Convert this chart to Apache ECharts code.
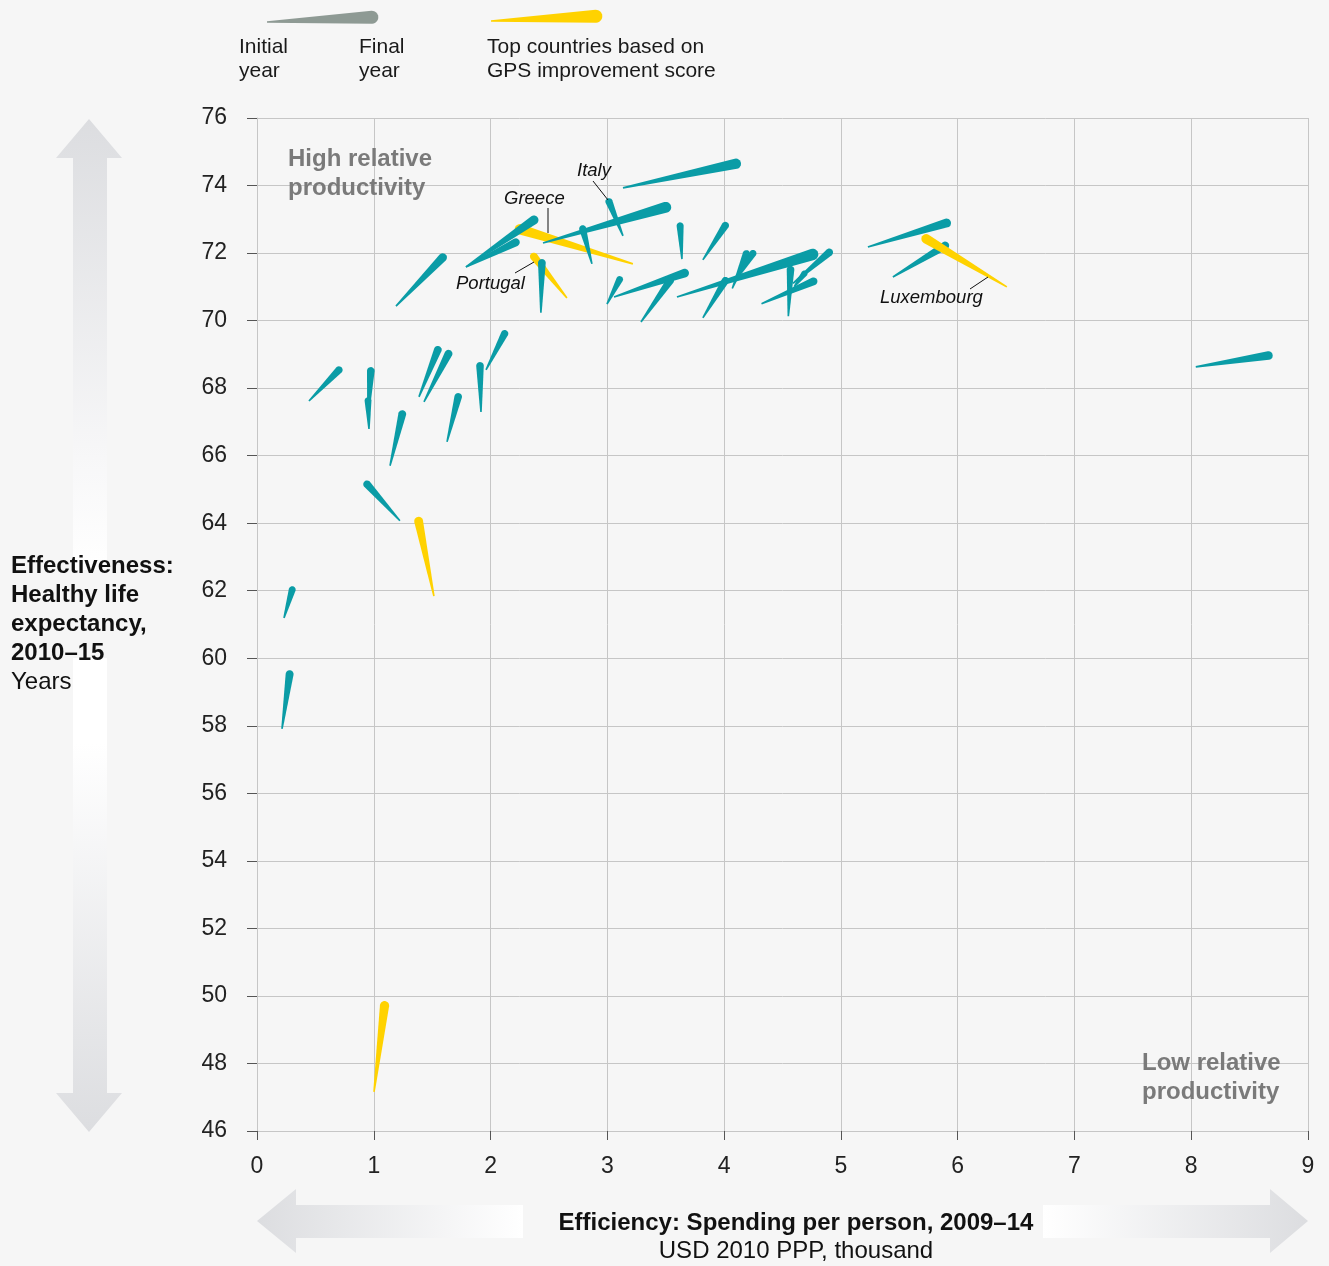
<!DOCTYPE html>
<html>
<head>
<meta charset="utf-8">
<script src="https://cdn.jsdelivr.net/npm/echarts@6/dist/echarts.min.js"></script>
<style>
html,body{margin:0;padding:0;background:#f6f6f6;}
#chart{width:1329px;height:1266px;}
</style>
</head>
<body>
<div id="chart"></div>
<script>
// Spending per person (USD 2010 PPP, thousand) and healthy life expectancy (years)
const initialX = [1.789, 1.789, 3.219, 2.654, 2.431, 2.449, 2.868, 3.134, 3.134, 1.19,
  3.639, 3.818, 2.997, 3.057, 3.288, 3.818, 3.596, 4.07, 4.10, 4.32,
  4.55, 4.59, 4.60, 5.231, 5.445, 6.421, 8.039,
  0.445, 0.950, 0.959, 1.387, 1.430, 1.139, 1.627, 1.918, 1.961, 1.224,
  1.515, 0.231, 0.214, 1.002];
const initialY = [71.59, 71.59, 71.68, 70.67, 70.23, 72.30, 71.68, 72.51, 73.93, 70.43,
  71.82, 71.80, 70.49, 70.70, 69.96, 70.08, 70.70, 70.95, 71.20, 70.50,
  70.13, 71.10, 71.00, 72.18, 71.29, 71.00, 68.63,
  67.62, 67.12, 66.79, 67.74, 67.59, 65.70, 66.41, 67.29, 68.54, 64.07,
  61.84, 61.19, 57.91, 47.16];
const finalX = [2.24, 2.397, 2.217, 2.354, 2.440, 3.536, 2.783, 3.005, 4.135, 1.61,
  3.622, 4.024, 3.116, 3.690, 3.553, 4.024, 4.795, 4.20, 4.26, 4.79,
  4.57, 4.92, 4.70, 5.934, 5.916, 5.702, 8.690,
  0.719, 0.976, 0.950, 1.558, 1.652, 1.250, 1.729, 1.909, 2.132, 0.925,
  1.378, 0.308, 0.283, 1.096];
const finalY = [72.36, 73.04, 72.74, 71.97, 71.80, 73.39, 72.80, 73.60, 74.67, 71.94,
  72.89, 72.89, 71.29, 71.44, 71.26, 71.26, 72.00, 72.06, 72.06, 71.20,
  71.60, 72.08, 71.45, 72.92, 72.27, 72.48, 68.98,
  68.60, 68.60, 67.71, 69.22, 69.10, 67.32, 67.83, 68.75, 69.69, 65.22,
  64.16, 62.11, 59.62, 49.82];
// 1 = top countries based on GPS improvement score
const topCountry = [0, 0, 1, 1, 0, 0, 0, 0, 0, 0,
  0, 0, 0, 0, 0, 0, 0, 0, 0, 0,
  0, 0, 0, 0, 0, 1, 0,
  0, 0, 0, 0, 0, 0, 0, 0, 0, 0,
  1, 0, 0, 1];
const xTicks = [0,1,2,3,4,5,6,7,8,9];
const yTicks = [46,48,50,52,54,56,58,60,62,64,66,68,70,72,74,76];

const TEAL = '#0a9ca6', GOLD = '#ffd200', GREY = '#8e9a94';
const FONT = '"Liberation Sans", Arial, Helvetica, sans-serif';

// draw order: teal drawn above gold except Luxembourg
const data = initialX.map((v, i) => [v, initialY[i], finalX[i], finalY[i], topCountry[i]]);
const order = [];
data.forEach((d, i) => { if (d[4] === 1 && i !== 25) order.push(i); });
data.forEach((d, i) => { if (d[4] === 0) order.push(i); });
order.push(25);
const seriesData = order.map(i => data[i]);

function cometPoints(p0, p1, w0, w1) {
  const dx = p1[0] - p0[0], dy = p1[1] - p0[1];
  const len = Math.hypot(dx, dy) || 1;
  const ux = dx / len, uy = dy / len, nx = -uy, ny = ux;
  const r = w1 / 2;
  const cx = p1[0] - ux * r * 0.8, cy = p1[1] - uy * r * 0.8;
  const pts = [[p0[0] + nx * w0 / 2, p0[1] + ny * w0 / 2]];
  const base = Math.atan2(ny, nx);
  for (let k = 0; k <= 12; k++) {
    const a = base - Math.PI * k / 12;
    pts.push([cx + Math.cos(a) * r, cy + Math.sin(a) * r]);
  }
  pts.push([p0[0] - nx * w0 / 2, p0[1] - ny * w0 / 2]);
  return pts;
}

function renderItem(params, api) {
  const p0 = api.coord([api.value(0), api.value(1)]);
  const p1 = api.coord([api.value(2), api.value(3)]);
  const len = Math.hypot(p1[0] - p0[0], p1[1] - p0[1]);
  const w1 = Math.min(11.5, 5.6 + len * 0.04);
  return {
    type: 'polygon',
    shape: { points: cometPoints(p0, p1, 1.6, w1) },
    style: { fill: api.value(4) === 1 ? GOLD : TEAL }
  };
}

const chart = echarts.init(document.getElementById('chart'), null, { renderer: 'canvas' });

const txt = (x, y, text, opts = {}) => Object.assign({
  type: 'text', left: x, top: y, z: 10,
  style: Object.assign({ text, fill: '#1a1a1a', font: '21px ' + FONT }, opts)
});

const graphics = [
  // vertical arrow (top part)
  { type: 'polygon', z: -1, shape: { points: [[89,119],[122,158],[107,158],[107,570],[73,570],[73,158],[56,158]] },
    style: { fill: new echarts.graphic.LinearGradient(0,0,0,1,[{offset:0,color:'#dcdde0'},{offset:0.75,color:'#f7f7f8'},{offset:1,color:'#ffffff'}]) } },
  // vertical arrow (bottom part)
  { type: 'polygon', z: -1, shape: { points: [[73,658],[107,658],[107,1093],[122,1093],[89,1132],[56,1093],[73,1093]] },
    style: { fill: new echarts.graphic.LinearGradient(0,0,0,1,[{offset:0,color:'#ffffff'},{offset:0.18,color:'#ffffff'},{offset:1,color:'#dcdde0'}]) } },
  // horizontal arrow left
  { type: 'polygon', z: -1, shape: { points: [[257,1221],[296,1189],[296,1205],[523,1205],[523,1238],[296,1238],[296,1253]] },
    style: { fill: new echarts.graphic.LinearGradient(0,0,1,0,[{offset:0,color:'#dcdde0'},{offset:1,color:'#ffffff'}]) } },
  // horizontal arrow right
  { type: 'polygon', z: -1, shape: { points: [[1043,1205],[1270,1205],[1270,1189],[1308,1221],[1270,1253],[1270,1238],[1043,1238]] },
    style: { fill: new echarts.graphic.LinearGradient(0,0,1,0,[{offset:0,color:'#ffffff'},{offset:1,color:'#dcdde0'}]) } },
  // legend comets
  { type: 'polygon', shape: { points: cometPoints([267,22],[377,17],1.6,13) }, style: { fill: GREY } },
  { type: 'polygon', shape: { points: cometPoints([491,21],[601,16],1.6,13) }, style: { fill: GOLD } },
  txt(239, 35, 'Initial\nyear', { lineHeight: 24 }),
  txt(359, 35, 'Final\nyear', { lineHeight: 24 }),
  txt(487, 35, 'Top countries based on\nGPS improvement score', { lineHeight: 24 }),
  // y axis title
  txt(11, 551.5, 'Effectiveness:\nHealthy life\nexpectancy,\n2010\u201315', { font: 'bold 24px ' + FONT, lineHeight: 29, fill: '#111' }),
  txt(11, 667.5, 'Years', { font: '24px ' + FONT, lineHeight: 29, fill: '#111' }),
  // x axis titles
  { type: 'text', x: 796, y: 1223, z: 10,
    style: { text: 'Efficiency: Spending per person, 2009\u201314', font: 'bold 24px ' + FONT, fill: '#111', align: 'center', verticalAlign: 'middle' } },
  { type: 'text', x: 796, y: 1251, z: 10,
    style: { text: 'USD 2010 PPP, thousand', font: '24px ' + FONT, fill: '#111', align: 'center', verticalAlign: 'middle' } },
  // corner labels
  txt(288, 144.5, 'High relative\nproductivity', { font: 'bold 24px ' + FONT, fill: '#7a7a7a', lineHeight: 29 }),
  txt(1142, 1048.5, 'Low relative\nproductivity', { font: 'bold 24px ' + FONT, fill: '#7a7a7a', lineHeight: 29 }),
  // country labels
  txt(577, 161, 'Italy', { font: 'italic 18.5px ' + FONT, fill: '#111' }),
  txt(504, 189, 'Greece', { font: 'italic 18.5px ' + FONT, fill: '#111' }),
  txt(456, 274, 'Portugal', { font: 'italic 18.5px ' + FONT, fill: '#111' }),
  txt(880, 288, 'Luxembourg', { font: 'italic 18.5px ' + FONT, fill: '#111' }),
  { type: 'line', z: 10, shape: { x1: 593, y1: 181, x2: 608, y2: 200 }, style: { stroke: '#111', lineWidth: 1 } },
  { type: 'line', z: 10, shape: { x1: 548, y1: 208, x2: 548, y2: 233 }, style: { stroke: '#111', lineWidth: 1 } },
  { type: 'line', z: 10, shape: { x1: 515, y1: 273, x2: 534, y2: 262 }, style: { stroke: '#111', lineWidth: 1 } },
  { type: 'line', z: 10, shape: { x1: 970, y1: 289, x2: 988, y2: 277 }, style: { stroke: '#111', lineWidth: 1 } }
];

chart.setOption({
  backgroundColor: '#f6f6f6',
  animation: false,
  grid: { left: 257, right: 21, top: 118, bottom: 135, containLabel: false },
  xAxis: {
    type: 'value', min: xTicks[0], max: xTicks[xTicks.length - 1], interval: 1,
    axisLine: { show: true, lineStyle: { color: '#c6c6c6', width: 1 } },
    axisTick: { show: true, length: 9, lineStyle: { color: '#555' } },
    axisLabel: { margin: 24, color: '#222', fontSize: 23, fontFamily: FONT },
    splitLine: { show: true, lineStyle: { color: '#c6c6c6', width: 1 } }
  },
  yAxis: {
    type: 'value', min: yTicks[0], max: yTicks[yTicks.length - 1], interval: 2,
    axisLine: { show: true, lineStyle: { color: '#c6c6c6', width: 1 } },
    axisTick: { show: true, length: 10, lineStyle: { color: '#555' } },
    axisLabel: { margin: 30, color: '#222', fontSize: 23, fontFamily: FONT },
    splitLine: { show: true, lineStyle: { color: '#c6c6c6', width: 1 } }
  },
  series: [{
    type: 'custom',
    renderItem: renderItem,
    data: seriesData,
    encode: { x: [0, 2], y: [1, 3] },
    clip: false
  }],
  graphic: graphics
});
</script>
</body>
</html>
